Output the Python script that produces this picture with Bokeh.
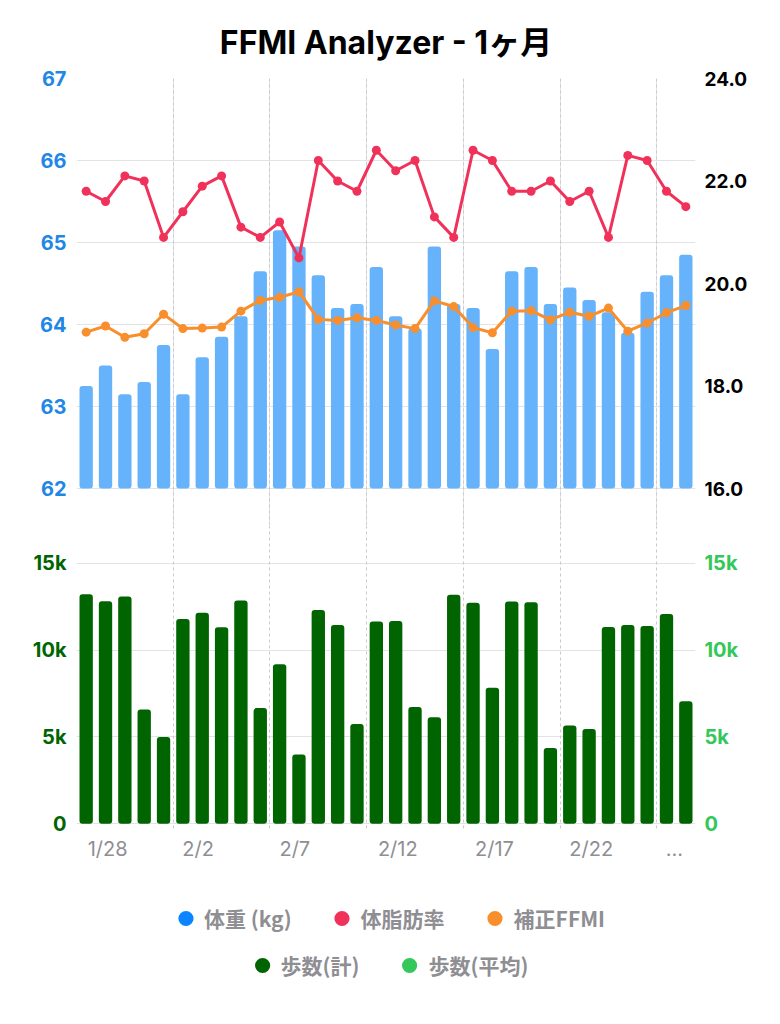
from bokeh.plotting import figure
from bokeh.models import (Range1d, LinearAxis, FixedTicker, Grid, NumeralTickFormatter,
                          Legend, LegendItem, ColumnDataSource)
from bokeh.layouts import column
from bokeh.embed import file_html
from bokeh.resources import INLINE

# ---------------- data ----------------
dates = ["1/28", "1/29", "1/30", "1/31", "2/1", "2/2", "2/3", "2/4", "2/5", "2/6",
         "2/7", "2/8", "2/9", "2/10", "2/11", "2/12", "2/13", "2/14", "2/15", "2/16",
         "2/17", "2/18", "2/19", "2/20", "2/21", "2/22", "2/23", "2/24", "2/25", "2/26",
         "2/27", "2/28"]
weight_kg = [63.25, 63.5, 63.15, 63.3, 63.75, 63.15, 63.6, 63.85, 64.1, 64.65,
             65.15, 64.95, 64.6, 64.2, 64.25, 64.7, 64.1, 63.95, 64.95, 64.25,
             64.2, 63.7, 64.65, 64.7, 64.25, 64.45, 64.3, 64.15, 63.9, 64.4,
             64.6, 64.85]
body_fat_pct = [21.8, 21.6, 22.1, 22.0, 20.9, 21.4, 21.9, 22.1, 21.1, 20.9,
                21.2, 20.5, 22.4, 22.0, 21.8, 22.6, 22.2, 22.4, 21.3, 20.9,
                22.6, 22.4, 21.8, 21.8, 22.0, 21.6, 21.8, 20.9, 22.5, 22.4,
                21.8, 21.5]
ffmi_adj = [19.05, 19.17, 18.95, 19.02, 19.40, 19.12, 19.13, 19.15, 19.46, 19.67,
            19.73, 19.84, 19.30, 19.28, 19.33, 19.28, 19.19, 19.12, 19.66, 19.55,
            19.14, 19.04, 19.46, 19.47, 19.29, 19.44, 19.36, 19.52, 19.07, 19.23,
            19.43, 19.57]
steps_total = [13210, 12810, 13090, 6580, 4990, 11790, 12150, 11310, 12860, 6660,
               9180, 3990, 12310, 11440, 5740, 11650, 11670, 6720, 6140, 13190,
               12730, 7830, 12790, 12750, 4360, 5660, 5450, 11330, 11440, 11380,
               12070, 7060]
tick_labels = ["1/28", "2/2", "2/7", "2/12", "2/17", "2/22", "..."]
weight_ticks = [62, 63, 64, 65, 66, 67]
pct_ticks = [16, 18, 20, 22, 24]
steps_ticks = [0, 5000, 10000, 15000]
legend_top = ["体重 (kg)", "体脂肪率", "補正FFMI"]
legend_bottom = ["歩数(計)", "歩数(平均)"]

# ---------------- styles ----------------
C_WEIGHT_BAR = "#66B3FC"
C_WEIGHT = "#0A84FF"
C_FAT = "#F0325A"
C_FFMI = "#F98E2C"
C_STEPS = "#006400"
C_STEPS_AVG = "#34C759"
C_AXIS_BLUE = "#1F87E5"
GRAY = "#8E8E93"
HGRID = "#E3E3E6"
VGRID = "#C9C9CE"
CJK = "Noto Sans CJK JP"
NUM = "Inter"
TITLE_FONT = "Inter, Noto Sans CJK JP"

W = 780
ML = 76
FRAME_W = 619
MR = W - ML - FRAME_W
n = len(dates)
px_per_day = FRAME_W / n
xs = [i + 0.5 for i in range(n)]
day_lines = [i for i in range(0, n, 5)]

# x tick labels sit left-aligned just after each day line:
# the axis centres labels, so shift each by half its estimated width
XLAB_SIZE = 20
char_w = {"/": 0.40, ".": 0.30}


def est_width(s):
    return sum(char_w.get(c, 0.62) for c in s) * XLAB_SIZE


label_pos = [d + (8.5 + est_width(lab) / 2) / px_per_day
             for d, lab in zip(day_lines, tick_labels)]


def plain_axis(a, color, size, standoff, bold=False):
    a.axis_line_color = None
    a.major_tick_line_color = None
    a.minor_tick_line_color = None
    a.major_tick_out = 0
    a.major_tick_in = 0
    a.minor_tick_out = 0
    a.minor_tick_in = 0
    a.major_label_standoff = standoff
    a.major_label_text_color = color
    a.major_label_text_font = NUM
    a.major_label_text_font_size = f"{size}px"
    a.major_label_text_font_style = "bold" if bold else "normal"


# ---------------- top panel ----------------
TOP_H, TOP_BORDER = 525, 78
frame_h_top = TOP_H - TOP_BORDER
px_per_kg = 410 / (weight_ticks[-1] - weight_ticks[0])
w_start = weight_ticks[-1] - frame_h_top / px_per_kg
px_per_pct = 410 / (pct_ticks[-1] - pct_ticks[0])
p_start = pct_ticks[-1] - frame_h_top / px_per_pct

p1 = figure(width=W, height=TOP_H, x_range=Range1d(0, n),
            y_range=Range1d(w_start, weight_ticks[-1]),
            x_axis_location=None, y_axis_location="left",
            toolbar_location=None, output_backend="svg",
            min_border_left=ML, min_border_right=MR,
            min_border_top=TOP_BORDER, min_border_bottom=0)
p1.outline_line_color = None
p1.extra_y_ranges = {"pct": Range1d(p_start, pct_ticks[-1])}

p1.title.text = "FFMI Analyzer - 1ヶ月"
p1.title.align = "center"
p1.title.text_font = TITLE_FONT
p1.title.text_font_size = "32px"
p1.title.text_font_style = "bold"
p1.title.text_color = "#000000"
p1.title.standoff = 34
p1.title.offset = 4

ax = p1.yaxis[0]
ax.ticker = FixedTicker(ticks=weight_ticks)
plain_axis(ax, C_AXIS_BLUE, 20, 10, bold=True)

rax = LinearAxis(y_range_name="pct", ticker=FixedTicker(ticks=pct_ticks),
                 formatter=NumeralTickFormatter(format="0.0"))
plain_axis(rax, "#000000", 19, 9, bold=True)
p1.add_layout(rax, "right")

p1.ygrid.grid_line_color = HGRID
p1.ygrid.grid_line_width = 1
p1.add_layout(Grid(dimension=0, ticker=FixedTicker(ticks=day_lines),
                   grid_line_color=VGRID, grid_line_dash="3 3", grid_line_width=1))

src = ColumnDataSource(dict(x=xs, w=weight_kg, fat=body_fat_pct, ffmi=ffmi_adj,
                            steps=steps_total))
p1.vbar(x="x", top="w", bottom=weight_ticks[0], width=0.69, source=src,
        fill_color=C_WEIGHT_BAR, line_color=None, border_radius=3)
p1.line(x="x", y="ffmi", source=src, line_color=C_FFMI, line_width=3, y_range_name="pct")
p1.scatter(x="x", y="ffmi", source=src, size=9, fill_color=C_FFMI, line_color=None,
           y_range_name="pct")
p1.line(x="x", y="fat", source=src, line_color=C_FAT, line_width=3, y_range_name="pct")
p1.scatter(x="x", y="fat", source=src, size=9, fill_color=C_FAT, line_color=None,
           y_range_name="pct")

# ---------------- bottom panel ----------------
BOT_H, BOT_BORDER = 343, 40
frame_h_bot = BOT_H - BOT_BORDER
px_per_step = 260.6 / steps_ticks[-1]
s_end = steps_ticks[-1] + 37.7 / px_per_step
s_start = s_end - frame_h_bot / px_per_step

p2 = figure(width=W, height=BOT_H, x_range=p1.x_range, y_range=Range1d(s_start, s_end),
            toolbar_location=None, output_backend="svg",
            min_border_left=ML, min_border_right=MR,
            min_border_top=0, min_border_bottom=BOT_BORDER)
p2.outline_line_color = None
p2.extra_y_ranges = {"steps_r": p2.y_range}

xa = p2.xaxis[0]
xa.ticker = FixedTicker(ticks=label_pos)
xa.major_label_overrides = {pos: lab for pos, lab in zip(label_pos, tick_labels)}
plain_axis(xa, GRAY, XLAB_SIZE, 8)

ya = p2.yaxis[0]
ya.ticker = FixedTicker(ticks=steps_ticks)
ya.formatter = NumeralTickFormatter(format="0a")
plain_axis(ya, C_STEPS, 20, 10, bold=True)

ra2 = LinearAxis(y_range_name="steps_r", ticker=FixedTicker(ticks=steps_ticks),
                 formatter=NumeralTickFormatter(format="0a"))
plain_axis(ra2, C_STEPS_AVG, 20, 9, bold=True)
p2.add_layout(ra2, "right")

p2.xgrid.visible = False
p2.ygrid.grid_line_color = HGRID
p2.add_layout(Grid(dimension=0, ticker=FixedTicker(ticks=day_lines),
                   grid_line_color=VGRID, grid_line_dash="3 3", grid_line_width=1))
p2.vbar(x="x", top="steps", bottom=0, width=0.69, source=src,
        fill_color=C_STEPS, line_color=None, border_radius=3)

# ---------------- legend panel ----------------
LEG_H = 140
p3 = figure(width=W, height=LEG_H, x_range=Range1d(0, 1), y_range=Range1d(0, 1),
            x_axis_location=None, y_axis_location=None, toolbar_location=None,
            output_backend="svg", min_border=0)
p3.outline_line_color = None
p3.grid.visible = False
leg_colors_top = [C_WEIGHT, C_FAT, C_FFMI]
leg_colors_bot = [C_STEPS, C_STEPS_AVG]
nan = float("nan")
items_top = []
for lab, col in zip(legend_top, leg_colors_top):
    r = p3.scatter(x=[nan], y=[nan], size=12, fill_color=col, line_color=None)
    items_top.append(LegendItem(label=lab, renderers=[r]))
items_bot = []
for lab, col in zip(legend_bottom, leg_colors_bot):
    r = p3.scatter(x=[nan], y=[nan], size=12, fill_color=col, line_color=None)
    items_bot.append(LegendItem(label=lab, renderers=[r]))


def style_legend(lg):
    lg.orientation = "horizontal"
    lg.padding = 0
    lg.spacing = 31
    lg.glyph_width = 38
    lg.glyph_height = 38
    lg.label_standoff = 0
    lg.border_line_color = None
    lg.background_fill_alpha = 0
    lg.label_text_font = CJK
    lg.label_text_font_size = "21px"
    lg.label_text_font_style = "bold"
    lg.label_text_color = GRAY


lg1 = Legend(items=items_top, location="top", margin=31)
lg2 = Legend(items=items_bot, location="bottom", margin=24)
style_legend(lg1)
style_legend(lg2)
p3.add_layout(lg1)
p3.add_layout(lg2)

layout = column(p1, p2, p3, spacing=0)
open("out.html", "w").write(file_html(layout, INLINE))
